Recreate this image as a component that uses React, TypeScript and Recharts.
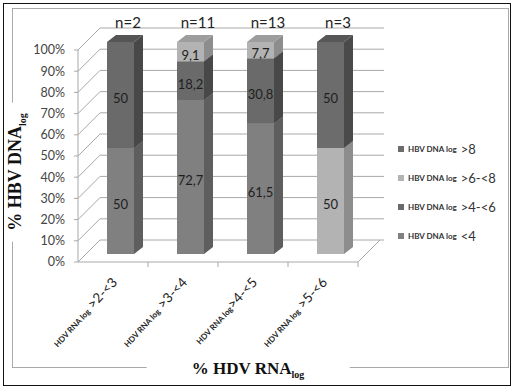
import React from "react";
import { BarChart, Bar, XAxis, YAxis, CartesianGrid, LabelList } from "recharts";

const categories = [
  "HDV RNA log >2-<3",
  "HDV RNA log >3-<4",
  "HDV RNA log>4-<5",
  "HDV RNA log >5-<6",
];
const sampleSizes = [2, 11, 13, 3];
const dnaBelow4 = [50, 72.7, 61.5, 0];
const dna4to6 = [50, 18.2, 30.8, 0];
const dna6to8 = [0, 9.1, 7.7, 50];
const dnaAbove8 = [0, 0, 0, 50];
const yTicks = [0, 10, 20, 30, 40, 50, 60, 70, 80, 90, 100];

const series = [
  { key: "lt4", label: "<4", values: dnaBelow4, front: "#808080", side: "#5e5e5e", top: "#6c6c6c" },
  { key: "b46", label: ">4-<6", values: dna4to6, front: "#6a6a6a", side: "#484848", top: "#555555" },
  { key: "b68", label: ">6-<8", values: dna6to8, front: "#b3b3b3", side: "#8d8d8d", top: "#9d9d9d" },
  { key: "gt8", label: ">8", values: dnaAbove8, front: "#6c6c6c", side: "#4a4a4a", top: "#575757" },
];

const data = categories.map((cat, i) => {
  const row: any = { cat, n: sampleSizes[i] };
  series.forEach((s) => (row[s.key] = s.values[i]));
  return row;
});

// 3D look: bars sit a bit behind the front plane, walls further back
const SHIFT_X = 7;
const SHIFT_Y = -8;
const DEPTH_X = 9;
const DEPTH_Y = -7;
const WALL_X = 22;
const WALL_Y = -22;
const GRID = "#a8a8a8";

const Box3D = (props: any) => {
  const { x, y, width, height, fill, side, topFill } = props;
  if (!height || height <= 0.5) return null;
  const fx = x + SHIFT_X;
  const fy = y + SHIFT_Y;
  const r = fx + width;
  return (
    <g>
      <rect x={fx} y={fy} width={width} height={height} fill={fill} />
      <polygon
        points={`${r},${fy} ${r + DEPTH_X},${fy + DEPTH_Y} ${r + DEPTH_X},${fy + height + DEPTH_Y} ${r},${fy + height}`}
        fill={side}
      />
      <polygon
        points={`${fx},${fy} ${fx + DEPTH_X},${fy + DEPTH_Y} ${r + DEPTH_X},${fy + DEPTH_Y} ${r},${fy}`}
        fill={topFill}
      />
    </g>
  );
};

const renderValue = (props: any) => {
  const { x, y, width, height, value } = props;
  if (!value) return null;
  return (
    <text
      x={x + width / 2 + SHIFT_X}
      y={y + height / 2 + SHIFT_Y + 3}
      textAnchor="middle"
      dominantBaseline="central"
      fontFamily="Lato, sans-serif"
      fontSize={13}
      fill="#1e1e1e"
    >
      {String(value).replace(".", ",")}
    </text>
  );
};

const renderGridLine = (props: any) => {
  const { x1, y1, x2 } = props;
  return (
    <g key={`g-${y1}`}>
      <line x1={x1} y1={y1} x2={x1 + WALL_X} y2={y1 + WALL_Y} stroke={GRID} />
      <line x1={x1 + WALL_X} y1={y1 + WALL_Y} x2={x2 + WALL_X + 4} y2={y1 + WALL_Y} stroke={GRID} />
    </g>
  );
};

const CategoryTick = (props: any) => {
  const { x, y, payload, index, width, visibleTicksCount } = props;
  const half = width && visibleTicksCount ? width / visibleTicksCount / 2 : 35;
  const label = String(payload.value);
  const split = label.indexOf("log") + 3;
  return (
    <g>
      <line x1={x + half} y1={y} x2={x + half} y2={y + 5} stroke={GRID} />
      {index === categories.length - 1 && (
        <line x1={x + half} y1={y} x2={x + half + WALL_X} y2={y + WALL_Y} stroke={GRID} />
      )}
      <g transform={`translate(${x + 5},${y + 21}) rotate(-47)`}>
        <text textAnchor="end" fill="#222" fontFamily="Lato, sans-serif">
          <tspan fontSize={8} fontWeight={700}>{label.slice(0, split)}</tspan>
          <tspan fontSize={13.5}>{label.slice(split)}</tspan>
        </text>
      </g>
    </g>
  );
};

const SampleTick = (props: any) => {
  const { x, y, index } = props;
  return (
    <text x={x + 15} y={y - 22} textAnchor="middle" fontFamily="Lato, sans-serif" fontSize={15} fill="#222">
      {`n=${sampleSizes[index]}`}
    </text>
  );
};

export default function App() {
  return (
    <div
      style={{
        position: "absolute",
        left: 0,
        top: 0,
        width: 514,
        height: 388,
        background: "#fff",
        fontFamily: "Lato, sans-serif",
      }}
    >
      <div
        style={{
          position: "absolute",
          left: 3,
          top: 3,
          width: 506,
          height: 381,
          border: "1.5px solid #111",
        }}
      />
      <div
        style={{
          position: "absolute",
          left: 12,
          top: 8,
          width: 495,
          height: 358,
          border: "1px solid #aaa",
        }}
      />
      <div style={{ position: "absolute", left: 0, top: 0 }}>
        <BarChart
          width={514}
          height={388}
          data={data}
          margin={{ top: 20, right: 156, bottom: 26, left: 18 }}
          barSize={27}
        >
          <CartesianGrid horizontal={renderGridLine} vertical={false} />
          <XAxis
            dataKey="cat"
            height={100}
            interval={0}
            tickSize={0}
            tickMargin={0}
            axisLine={{ stroke: GRID }}
            tickLine={false}
            tick={<CategoryTick />}
          />
          <XAxis
            xAxisId="top"
            dataKey="cat"
            orientation="top"
            height={30}
            interval={0}
            tickSize={0}
            tickMargin={0}
            axisLine={false}
            tickLine={false}
            tick={<SampleTick />}
          />
          <YAxis
            width={60}
            domain={[0, 100]}
            ticks={yTicks}
            interval={0}
            tickSize={4}
            tickMargin={9}
            tickFormatter={(v) => `${v}%`}
            axisLine={{ stroke: GRID }}
            tickLine={{ stroke: GRID }}
            tick={{ fontSize: 12.5, fill: "#444", fontFamily: "Lato, sans-serif" }}
          />
          {series.map((s) => (
            <Bar
              key={s.key}
              dataKey={s.key}
              stackId="a"
              fill={s.front}
              isAnimationActive={false}
              shape={(p: any) => <Box3D {...p} side={s.side} topFill={s.top} />}
            >
              <LabelList dataKey={s.key} content={renderValue} />
            </Bar>
          ))}
        </BarChart>
      </div>
      <div style={{ position: "absolute", left: 398, top: 134 }}>
        {[...series].reverse().map((s) => (
          <div key={s.key} style={{ display: "flex", alignItems: "center", height: 29 }}>
            <span style={{ width: 6, height: 6, background: s.front, marginRight: 4 }} />
            <span style={{ fontSize: 8, fontWeight: 700, color: "#333" }}>HBV DNA log</span>
            <span style={{ fontSize: 13, color: "#333", marginLeft: 4 }}>{s.label}</span>
          </div>
        ))}
      </div>
      <div
        style={{
          position: "absolute",
          left: 19,
          top: 172,
          transform: "translate(-50%, -50%) rotate(-90deg)",
          whiteSpace: "nowrap",
          background: "#fff",
          padding: "0 11px",
          fontFamily: "'Liberation Serif', serif",
          fontWeight: 700,
          fontSize: 18,
          color: "#111",
          lineHeight: "20px",
        }}
      >
        % HBV DNA<sub style={{ fontSize: 10 }}>log</sub>
      </div>
      <div
        style={{
          position: "absolute",
          left: 248,
          top: 372,
          transform: "translate(-50%, -50%)",
          whiteSpace: "nowrap",
          background: "#fff",
          padding: "0 45px",
          fontFamily: "'Liberation Serif', serif",
          fontWeight: 700,
          fontSize: 17,
          color: "#111",
          lineHeight: "18px",
        }}
      >
        % HDV RNA<sub style={{ fontSize: 10 }}>log</sub>
      </div>
    </div>
  );
}
